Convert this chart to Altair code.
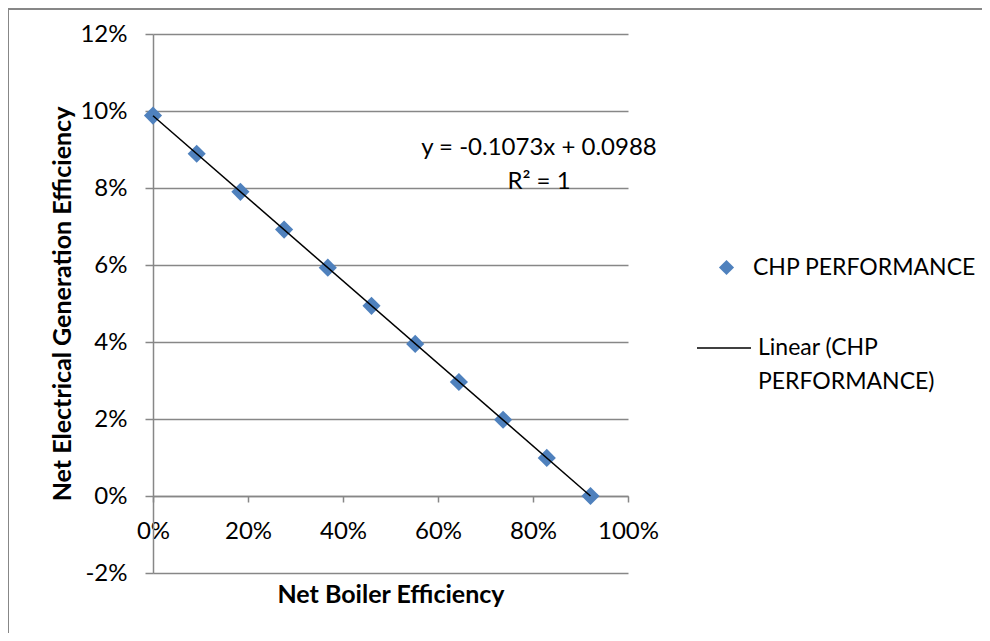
import altair as alt
import pandas as pd

# ---- data ----
boiler_eff = [0.0, 0.092, 0.184, 0.276, 0.368, 0.460, 0.552, 0.644, 0.737, 0.829, 0.921]
elec_eff = [0.0988, 0.0889, 0.0790, 0.0692, 0.0593, 0.0494, 0.0395, 0.0296, 0.0198, 0.0099, 0.0]
series_name = "CHP PERFORMANCE"
trend_name = "Linear (CHP PERFORMANCE)"
x_ticks = [0.0, 0.2, 0.4, 0.6, 0.8, 1.0]
y_ticks = [-0.02, 0.0, 0.02, 0.04, 0.06, 0.08, 0.10, 0.12]
eq_text = ["y = -0.1073x + 0.0988", "R² = 1"]
eq_x = [0.8126, 0.8126]
eq_y = [0.0904, 0.0816]

FONT = "Lato"
GRID = "#878787"
BLUE = "#4F81BD"

W, H = 475, 539
PAD = {"left": 145, "top": 26, "right": 354, "bottom": 60}

df = pd.DataFrame({"x": boiler_eff, "y": elec_eff, "series": [series_name] * len(boiler_eff)})
ann = pd.DataFrame({"x": eq_x, "y": eq_y, "t": eq_text})

xscale = alt.Scale(domain=[0, 1], nice=False, zero=False)
yscale = alt.Scale(domain=[-0.02, 0.12], nice=False, zero=False)

HYPHEN = "replace(datum.label, '\u2212', '-')"

x_axis = alt.Axis(
    values=x_ticks, format=".0%", grid=False, offset=-77,
    tickSize=6, labelPadding=17, labelFontSize=24, labelFont=FONT,
    labelColor="black", labelFlush=False, labelOverlap=False,
    title="Net Boiler Efficiency", titleFont=FONT, titleFontSize=25,
    titleFontWeight="bold", titleY=98, titleBaseline="middle", titleColor="black",
)
y_axis = alt.Axis(
    values=y_ticks, format=".0%", grid=True, tickSize=8, labelPadding=18,
    labelFontSize=24, labelFont=FONT, labelColor="black", labelOverlap=False,
    labelExpr=HYPHEN,
    title="Net Electrical Generation Efficiency", titleFont=FONT, titleFontSize=25,
    titleFontWeight="bold", titleColor="black", titleX=-91, titleY=H / 2,
    titleBaseline="middle", titleAngle=-90,
)

points = alt.Chart(df).mark_point(shape="diamond", filled=True, size=330, opacity=1, color=BLUE).encode(
    x=alt.X("x:Q", scale=xscale, axis=x_axis),
    y=alt.Y("y:Q", scale=yscale, axis=y_axis),
    shape=alt.Shape(
        "series:N", scale=alt.Scale(range=["diamond"]),
        legend=alt.Legend(
            title=None, orient="none", legendX=562, legendY=222, padding=0,
            symbolFillColor=BLUE, symbolStrokeWidth=0, symbolSize=230,
            labelFont=FONT, labelFontSize=23, labelColor="black", labelOffset=15,
            labelLimit=400,
        ),
    ),
)

trend = alt.Chart(df).transform_regression("x", "y").transform_calculate(
    trend=f"'{trend_name}'"
).mark_line(color="black", strokeWidth=1.5).encode(
    x=alt.X("x:Q", scale=xscale),
    y=alt.Y("y:Q", scale=yscale),
    stroke=alt.Stroke(
        "trend:N", scale=alt.Scale(range=["black"]),
        legend=alt.Legend(
            title=None, orient="none", legendX=543, legendY=286, padding=0,
            symbolType="stroke", symbolSize=2916, symbolStrokeWidth=1.5,
            symbolStrokeColor="black",
            labelFont=FONT, labelFontSize=23, labelColor="black", labelOffset=6,
            labelLimit=400, labelBaseline="middle",
            labelExpr="datum.label == 'Linear (CHP PERFORMANCE)' ? ['Linear (CHP', 'PERFORMANCE)'] : datum.label",
        ),
    ),
)

eq = alt.Chart(ann).mark_text(font=FONT, fontSize=24, color="black", align="center", baseline="middle").encode(
    x=alt.X("x:Q", scale=xscale),
    y=alt.Y("y:Q", scale=yscale),
    text="t:N",
)

frame_left = alt.Chart(df).mark_rule(color=GRID, strokeWidth=1.5).encode(
    x=alt.value(-145), y=alt.value(-26), y2=alt.value(H + 60)
)
frame_top = alt.Chart(df).mark_rule(color=GRID, strokeWidth=1.5).encode(
    x=alt.value(-145), x2=alt.value(W + 354), y=alt.value(-25)
)

chart = alt.layer(points, trend, eq, frame_left, frame_top).properties(
    width=W, height=H, padding=PAD, autosize=alt.AutoSizeParams(type="none"),
).configure(
    view=alt.ViewConfig(stroke=None),
    axis=alt.AxisConfig(
        gridColor=GRID, domainColor=GRID, tickColor=GRID,
        gridWidth=1.5, domainWidth=1.5, tickWidth=1.5, gridOpacity=1,
    ),
    style={"guide-label": {"lineHeight": 34}},
)

chart.save("out.html", embed_options={"renderer": "svg", "actions": False})
